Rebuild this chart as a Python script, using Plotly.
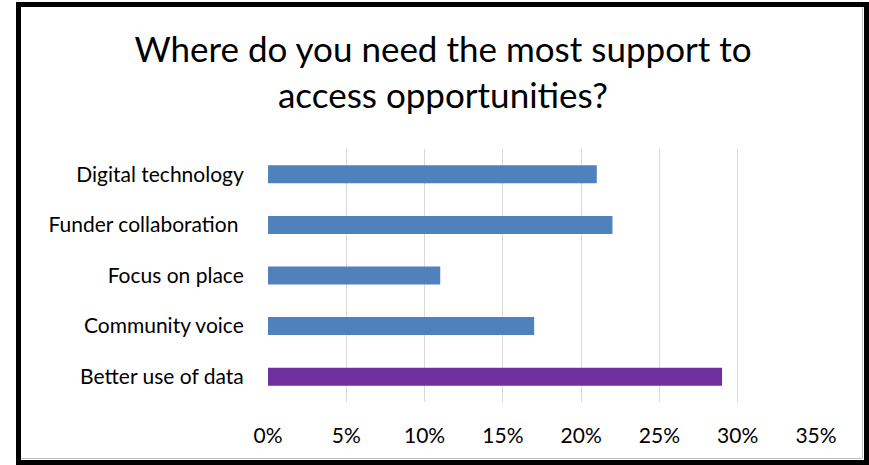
import plotly.graph_objects as go

categories = ["Better use of data", "Community voice", "Focus on place",
              "Funder collaboration&nbsp;", "Digital technology"]
values = [0.29, 0.17, 0.11, 0.22, 0.21]
colors = ["#7030A0", "#4F81BD", "#4F81BD", "#4F81BD", "#4F81BD"]
tick_vals = [0, 0.05, 0.10, 0.15, 0.20, 0.25, 0.30, 0.35]
tick_text = ["0%", "5%", "10%", "15%", "20%", "25%", "30%", "35%"]

W, H = 869, 465
L, R, T, B = 268, 53, 149, 63
PW, PH = W - L - R, H - T - B

def px(x):
    return (x - L) / PW

def py(y):
    return (H - B - y) / PH

FONT = "Lato"

fig = go.Figure(go.Bar(
    y=categories, x=values, orientation="h",
    marker=dict(color=colors, line=dict(width=0)),
    hoverinfo="skip",
))

fig.update_layout(
    width=W, height=H,
    margin=dict(l=L, r=R, t=T, b=B),
    paper_bgcolor="white", plot_bgcolor="white",
    bargap=0.645,
    showlegend=False,
    title=dict(
        text="Where do you need the most support to<br>access opportunities?",
        x=443 / W, xanchor="center", xref="container",
        y=1 - 62 / H, yanchor="top", yref="container",
        font=dict(family=FONT, size=35, color="#000000"),
    ),
    font=dict(family=FONT, color="#000000"),
    xaxis=dict(
        range=[0, 0.35], tickvals=tick_vals, ticktext=tick_text,
        showgrid=True, gridcolor="#D9D9D9", gridwidth=1.3,
        zeroline=False, showline=False,
        ticks="outside", ticklen=15, tickcolor="rgba(0,0,0,0)",
        tickfont=dict(family=FONT, size=21, color="#000000"),
        fixedrange=True,
    ),
    yaxis=dict(
        showgrid=False, zeroline=False, showline=False,
        ticks="outside", ticklen=19, tickcolor="rgba(0,0,0,0)",
        tickfont=dict(family=FONT, size=21, color="#000000"),
        fixedrange=True,
    ),
    shapes=[
        dict(type="line", xref="paper", yref="paper",
             x0=px(21), x1=px(862.5), y0=py(458.5), y1=py(458.5),
             line=dict(color="#BFBFBF", width=1)),
        dict(type="line", xref="paper", yref="paper",
             x0=px(862.5), x1=px(862.5), y0=py(7), y1=py(458.5),
             line=dict(color="#BFBFBF", width=1)),
        dict(type="rect", xref="paper", yref="paper",
             x0=px(18.5), x1=px(866.5), y0=py(462.5), y1=py(4.5),
             line=dict(color="#000000", width=5), fillcolor="rgba(0,0,0,0)"),
    ],
)

fig.write_html("out.html")
